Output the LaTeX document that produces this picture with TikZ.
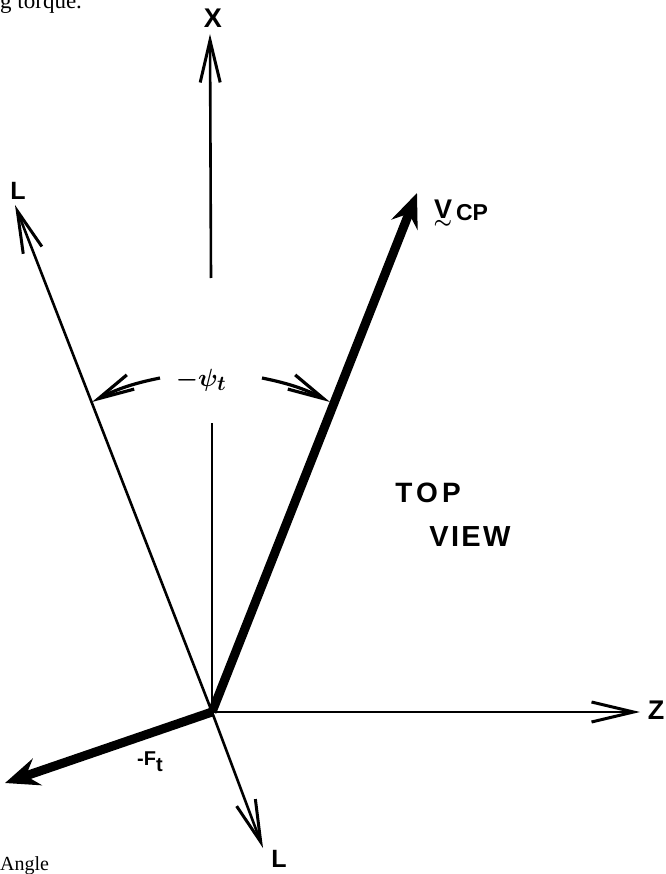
\documentclass[tikz,border=0pt]{standalone}
\usepackage{bm}
\usepackage{fontspec}
\setmainfont{Liberation Serif}
\newfontfamily\lettering{Liberation Sans}
\usetikzlibrary{arrows.meta}
\tikzset{
  thinax/.style={line width=2.6pt},
  thinarrow/.style={line width=2.6pt,-{Straight Barb[length=42pt,width=20pt,line width=3pt]}},
  thickarrow/.style={line width=9pt,-{Stealth[length=34pt,width=28pt,inset=12pt]}},
  arcarrow/.style={line width=3.2pt,-{Straight Barb[length=36pt,width=16pt,line width=3.2pt]}},
  lab/.style={inner sep=0pt,font=\lettering\bfseries\fontsize{27}{27}\selectfont},
  caption/.style={inner sep=0pt,font=\fontsize{23}{23}\selectfont}
}
\begin{document}
\begin{tikzpicture}[x=1pt,y=-1pt]
\useasboundingbox (0,0) rectangle (665,874);
% points
\coordinate (O) at (212,712);
\coordinate (Xlow) at (212,423);
\coordinate (Xup) at (211,278);
\coordinate (Xtip) at (210,34);
\coordinate (Ztip) at (640,712);
\coordinate (Luptip) at (15,205);
\coordinate (Llowtip) at (263,848);
\coordinate (Vtip) at (417,193);
\coordinate (Ftip) at (5,783);
\coordinate (ArcLa) at (160,378);
\coordinate (ArcLb) at (92,402);
\coordinate (ArcRa) at (262,378);
\coordinate (ArcRb) at (330,402);
% axes
\draw[thinax] (O) -- (Xlow);
\draw[thinarrow] (Xup) -- (Xtip);
\draw[thinarrow] (O) -- (Ztip);
\draw[thinarrow] (O) -- (Luptip);
\draw[thinarrow] (O) -- (Llowtip);
% thick vectors
\draw[thickarrow] (O) -- (Vtip);
\draw[thickarrow] (O) -- (Ftip);
% angle arcs
\draw[arcarrow] (ArcLa) to[bend right=8] (ArcLb);
\draw[arcarrow] (ArcRa) to[bend left=8] (ArcRb);
% labels
\node[lab] (Xlab) at (213,18) {X};
\node[lab] (Zlab) at (656,710) {Z};
\node[lab,font=\lettering\bfseries\fontsize{25}{25}\selectfont] (Lup) at (18,191) {L};
\node[lab,font=\lettering\bfseries\fontsize{25}{25}\selectfont] (Llow) at (279,859) {L};
\node[lab,anchor=south] (Vlab) at (443,219) {V};
\node[inner sep=0pt,anchor=north,font=\fontsize{22}{22}\selectfont] (Vtilde) at (443,220) {$\bm{\sim}$};
\node[lab,font=\lettering\bfseries\fontsize{23}{23}\selectfont] (CPlab) at (472,213) {CP};
\node[inner sep=0pt,font=\fontsize{30}{30}\selectfont] (psilab) at (201,380) {$\bm{-}\bm{\psi}_{\bm{t}}$};
\node[inner sep=0pt,font=\lettering\bfseries\fontsize{20}{20}\selectfont] (Flab) at (150,762) {-F\raisebox{-6pt}{t}};
\node[lab,font=\lettering\bfseries\fontsize{28}{28}\selectfont\addfontfeature{LetterSpace=15}] (TOP) at (428,493) {TOP};
\node[lab,font=\lettering\bfseries\fontsize{29}{29}\selectfont\addfontfeature{LetterSpace=8}] (VIEW) at (470,537) {VIEW};
\node[caption,anchor=base west] (cap1) at (0,9) {g torque.};
\node[inner sep=0pt,font=\fontsize{20}{20}\selectfont,anchor=base west] (cap2) at (0,870) {Angle};
\end{tikzpicture}
\end{document}
